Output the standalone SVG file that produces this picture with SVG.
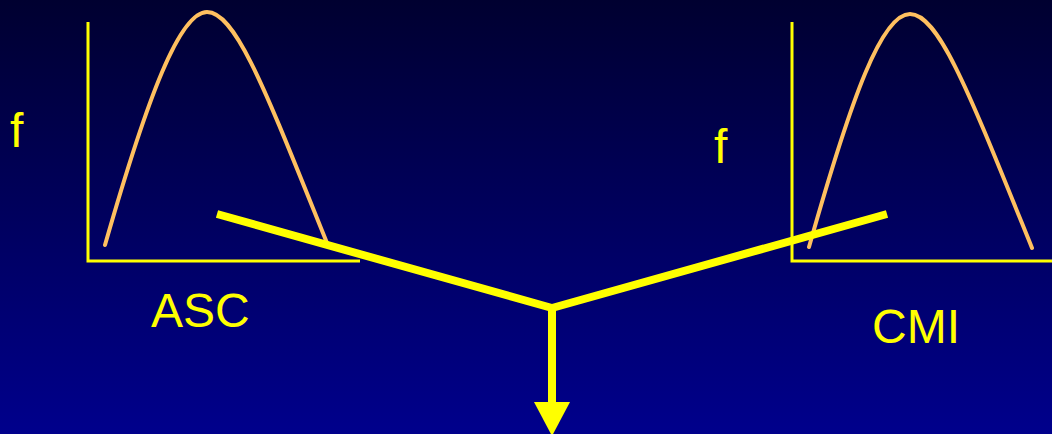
<svg xmlns="http://www.w3.org/2000/svg" width="1052" height="434" viewBox="0 0 1052 434">
<defs>
<linearGradient id="bg" x1="0" y1="0" x2="0" y2="1">
<stop offset="0" stop-color="#000030"/>
<stop offset="1" stop-color="#00008C"/>
</linearGradient>
<style>
.axis{stroke:#FFFF00;stroke-width:3;fill:none}
.curve{stroke:#FFC060;stroke-width:4;fill:none;stroke-linecap:round}
.lbl{fill:#FFFF00;font-family:"Liberation Sans",Arial,sans-serif;font-size:48px}
.beam{stroke:#FFFF00;stroke-width:8;fill:none;stroke-linejoin:bevel}
</style>
</defs>
<rect width="1052" height="434" fill="url(#bg)"/>
<g id="chart-asc">
<polyline class="axis" points="88,22 88,261 360,261"/>
<path class="curve" d="M105,245 C148,95 180,12 207,12 C236,12 266,92 327,243"/>
<text class="lbl" x="10" y="147">f</text>
<text class="lbl" x="151" y="327">ASC</text>
</g>
<g id="chart-cmi">
<polyline class="axis" points="792,22 792,261 1052,261"/>
<path class="curve" d="M809,247 C852,95 882,14 910,14 C939,14 970,95 1032,248"/>
<text class="lbl" x="714" y="163">f</text>
<text class="lbl" x="872" y="343">CMI</text>
</g>
<g id="connectors">
<polyline class="beam" points="217,214 552,308 887,214"/>
<line x1="552" y1="306" x2="552" y2="404" stroke="#FFFF00" stroke-width="8"/>
<polygon points="534,402 570,402 552,436" fill="#FFFF00"/>
</g>
</svg>
